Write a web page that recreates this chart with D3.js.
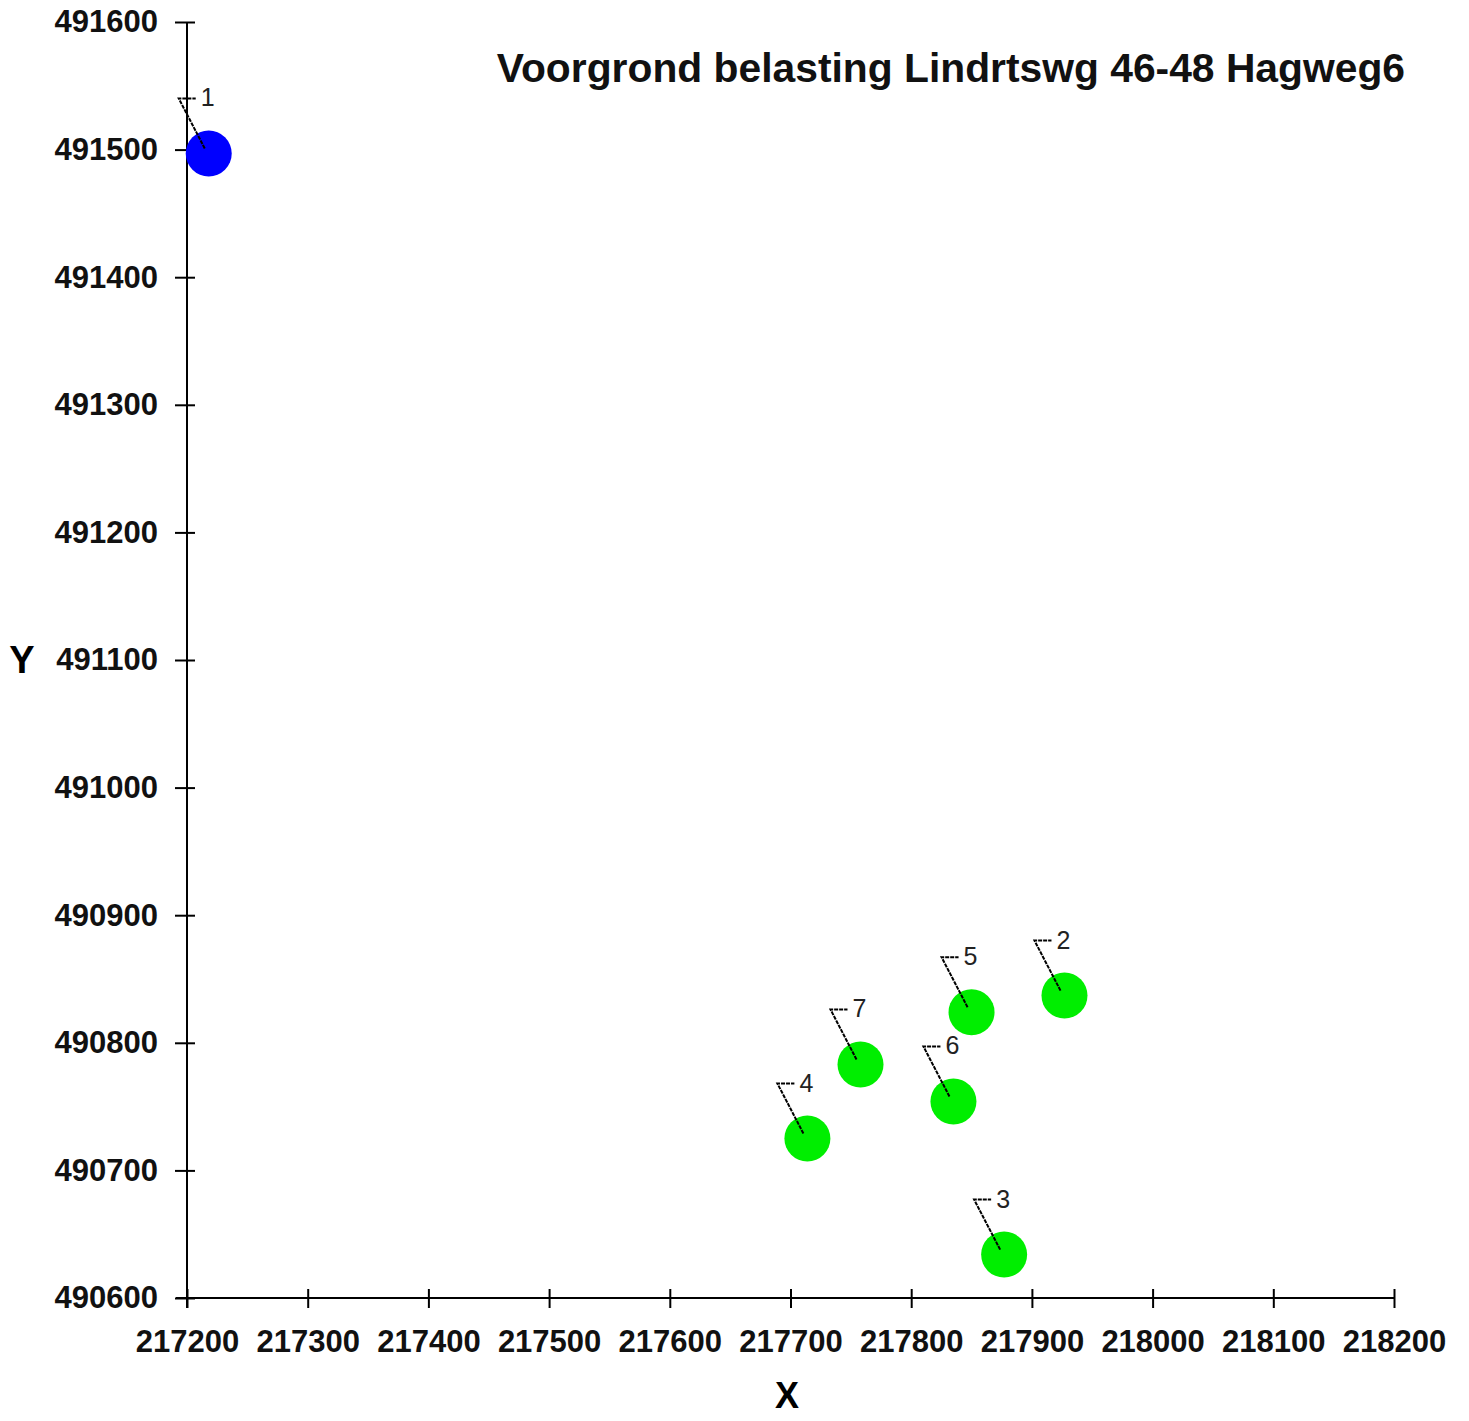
<!DOCTYPE html>
<html><head><meta charset="utf-8">
<script src="https://cdn.jsdelivr.net/npm/d3@7"></script>
<style>body{margin:0;background:#fff}svg{display:block}</style>
</head><body>
<svg id="c" width="1469" height="1421"></svg>
<script>
const labels = ["1","2","3","4","5","6","7"];
const xs = [217218, 217927, 217877, 217714, 217850, 217835, 217758];
const ys = [491497, 490837, 490634, 490725, 490824, 490754, 490783];
const colors = ["#0000ff","#00ee00","#00ee00","#00ee00","#00ee00","#00ee00","#00ee00"];
const xTicks = [217200,217300,217400,217500,217600,217700,217800,217900,218000,218100,218200];
const yTicks = [490600,490700,490800,490900,491000,491100,491200,491300,491400,491500,491600];
const title = "Voorgrond belasting Lindrtswg 46-48 Hagweg6";

const svg = d3.select("#c");
const x = d3.scaleLinear().domain([217200,218200]).range([187,1394]);
const y = d3.scaleLinear().domain([490600,491600]).range([1298,22]);
const font = "'Liberation Sans', Arial, sans-serif";

const gy = svg.append("g").attr("transform","translate(187,0)")
  .call(d3.axisLeft(y).tickValues(yTicks).tickFormat(d3.format("d")).tickSize(12).tickPadding(18));
gy.select(".domain").attr("d","M0,22V1308").attr("stroke","#000").attr("stroke-width",2);
gy.selectAll(".tick line").attr("x1",8).attr("x2",-12).attr("stroke","#000").attr("stroke-width",2);
gy.selectAll(".tick text").attr("font-family",font).attr("font-weight","bold").attr("font-size",31).attr("fill","#111").attr("x",-29);

const gx = svg.append("g").attr("transform","translate(0,1298)")
  .call(d3.axisBottom(x).tickValues(xTicks).tickFormat(d3.format("d")).tickSize(10).tickPadding(18));
gx.select(".domain").attr("d","M176,0H1394").attr("stroke","#000").attr("stroke-width",2);
gx.selectAll(".tick line").attr("y1",-9).attr("y2",10).attr("stroke","#000").attr("stroke-width",2);
gx.selectAll(".tick text").attr("font-family",font).attr("font-weight","bold").attr("font-size",31).attr("fill","#111").attr("y",32);

svg.append("text").attr("x",22).attr("y",673).attr("text-anchor","middle")
  .attr("font-family",font).attr("font-weight","bold").attr("font-size",38).text("Y");
svg.append("text").attr("x",787).attr("y",1408).attr("text-anchor","middle")
  .attr("font-family",font).attr("font-weight","bold").attr("font-size",36).text("X");

svg.append("text").attr("x",1405).attr("y",82).attr("text-anchor","end")
  .attr("font-family",font).attr("font-weight","bold").attr("font-size",40.8).attr("fill","#111").text(title);

const pts = labels.map((l,i)=>({l, x:xs[i], y:ys[i], c:colors[i]}));
const g = svg.append("g");
g.selectAll("circle").data(pts).join("circle")
  .attr("cx",d=>x(d.x)).attr("cy",d=>y(d.y)).attr("r",23).attr("fill",d=>d.c);
const lg = g.selectAll("g.lbl").data(pts).join("g").attr("class","lbl")
  .attr("transform",d=>`translate(${x(d.x)},${y(d.y)})`);
lg.append("path").attr("d","M-4,-5L-30,-55H-13").attr("fill","none").attr("stroke","#000")
  .attr("stroke-width",2).attr("stroke-dasharray","4,1");
lg.append("text").attr("x",-8).attr("y",-47).attr("font-family",font).attr("font-size",25)
  .attr("fill","#222").text(d=>d.l);
</script>
</body></html>
